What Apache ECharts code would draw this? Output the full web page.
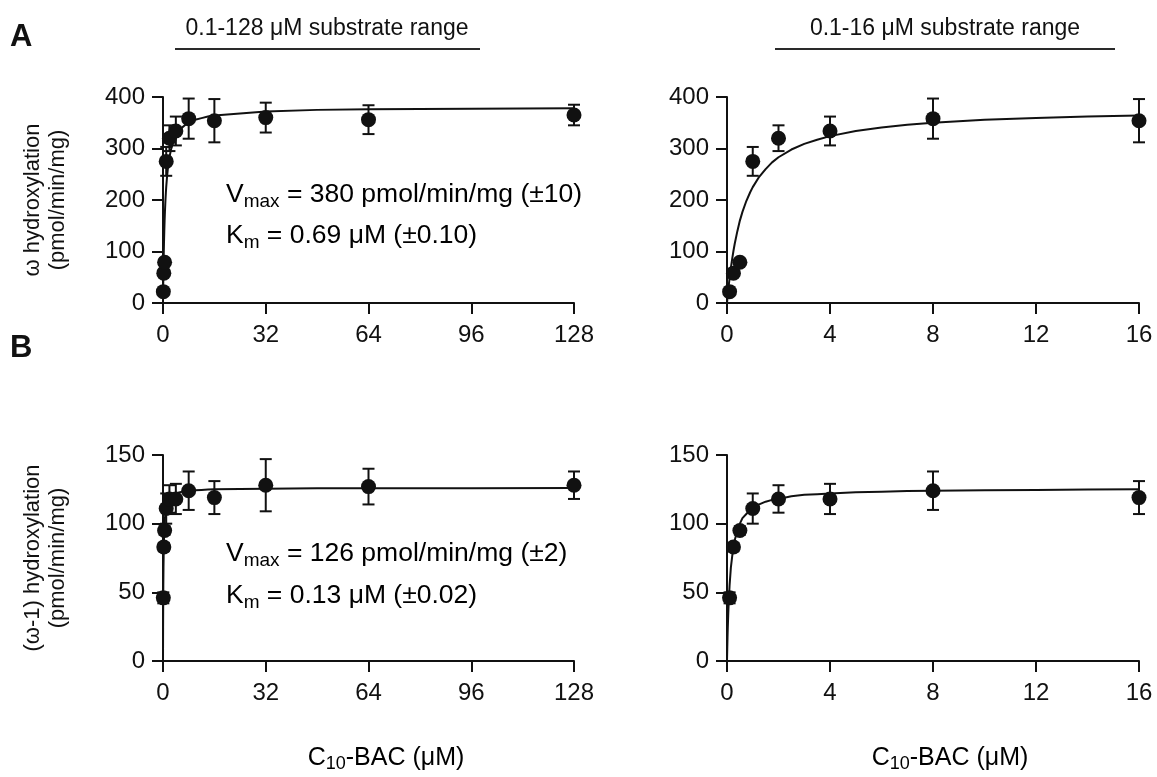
<!DOCTYPE html>
<html><head><meta charset="utf-8">
<script src="https://cdn.jsdelivr.net/npm/echarts@6/dist/echarts.min.js"></script>
<style>html,body{margin:0;padding:0;background:#fff}#c{width:1157px;height:777px}</style>
</head><body><div id="c"></div>
<script>
// ---- data ----
const concentrations = [0.1, 0.25, 0.5, 1, 2, 4, 8, 16, 32, 64, 128];
const omegaMean  = [22, 58, 79, 275, 320, 334, 358, 354, 360, 356, 365];
const omegaErr   = [4, 5, 5, 28, 25, 28, 39, 42, 29, 28, 20];
const omega1Mean = [46, 83, 95, 111, 118, 118, 124, 119, 128, 127, 128];
const omega1Err  = [4, 3, 3, 11, 10, 11, 14, 12, 19, 13, 10];
// fitted curves as drawn
const fitX      = [0, 0.01, 0.02, 0.03, 0.05, 0.07, 0.1, 0.15, 0.2, 0.25, 0.3, 0.4, 0.5, 0.6, 0.75, 0.9, 1, 1.25, 1.5, 1.75, 2, 2.5, 3, 3.5, 4, 5, 6, 7, 8, 10, 12, 14, 16, 24, 32, 48, 64, 96, 128];
const omegaFit  = [0, 5, 11, 16, 26, 35, 48, 68, 85, 101, 115, 139, 160, 177, 198, 215, 225, 245, 260, 273, 283, 298, 309, 317, 324, 334, 341, 346, 350, 356, 359, 362, 364, 368, 372, 375, 376, 377, 378];
const omega1Fit = [0, 9, 17, 24, 35, 44, 55, 68, 76, 83, 88, 95, 100, 104, 107, 110, 111.5, 114, 116, 117.3, 118, 120, 121, 121.5, 122, 122.8, 123.3, 123.7, 124, 124.4, 124.6, 124.8, 125, 125.3, 125.5, 125.7, 125.7, 125.8, 125.9];
const FONT = 'Liberation Sans, Arial, sans-serif';
const INK = '#111111';

const chart = echarts.init(document.getElementById('c'), null, {renderer: 'canvas'});

function pts(xs, ys, maxX) {
  const out = [];
  xs.forEach((x, i) => { if (x <= maxX) out.push([x, ys[i]]); });
  return out;
}
function errs(xs, m, e, maxX) {
  const out = [];
  xs.forEach((x, i) => { if (x <= maxX) out.push([x, m[i] - e[i], m[i] + e[i]]); });
  return out;
}
function errRender(params, api) {
  const x = api.value(0), lo = api.value(1), hi = api.value(2);
  const p1 = api.coord([x, hi]), p2 = api.coord([x, lo]);
  const w = 6;
  const st = {stroke: INK, lineWidth: 2};
  return {type: 'group', children: [
    {type: 'line', shape: {x1: p1[0], y1: p1[1], x2: p2[0], y2: p2[1]}, style: st},
    {type: 'line', shape: {x1: p1[0] - w, y1: p1[1], x2: p1[0] + w, y2: p1[1]}, style: st},
    {type: 'line', shape: {x1: p2[0] - w, y1: p2[1], x2: p2[0] + w, y2: p2[1]}, style: st}
  ]};
}

const grids = [
  {left: 163, top: 97, width: 411, height: 206},
  {left: 727, top: 97, width: 412, height: 206},
  {left: 163, top: 455, width: 411, height: 206},
  {left: 727, top: 455, width: 412, height: 206}
];
const axisCommon = {
  type: 'value',
  axisLine: {show: true, onZero: false, lineStyle: {color: INK, width: 2}},
  axisTick: {show: true, length: 11, lineStyle: {color: INK, width: 2}},
  splitLine: {show: false},
  axisLabel: {fontSize: 24, color: INK, fontFamily: FONT}
};
const xAxes = [
  {gridIndex: 0, min: 0, max: 128, interval: 32},
  {gridIndex: 1, min: 0, max: 16, interval: 4},
  {gridIndex: 2, min: 0, max: 128, interval: 32},
  {gridIndex: 3, min: 0, max: 16, interval: 4}
].map(a => Object.assign({}, axisCommon, a, {axisLabel: Object.assign({}, axisCommon.axisLabel, {margin: 20})}));
const yAxes = [
  {gridIndex: 0, min: 0, max: 400, interval: 100},
  {gridIndex: 1, min: 0, max: 400, interval: 100},
  {gridIndex: 2, min: 0, max: 150, interval: 50},
  {gridIndex: 3, min: 0, max: 150, interval: 50}
].map(a => Object.assign({}, axisCommon, a, {axisLabel: Object.assign({}, axisCommon.axisLabel, {margin: 18})}));

const series = [];
const panels = [
  {g: 0, mean: omegaMean, err: omegaErr, fit: omegaFit, maxX: 128},
  {g: 1, mean: omegaMean, err: omegaErr, fit: omegaFit, maxX: 16},
  {g: 2, mean: omega1Mean, err: omega1Err, fit: omega1Fit, maxX: 128},
  {g: 3, mean: omega1Mean, err: omega1Err, fit: omega1Fit, maxX: 16}
];
panels.forEach(p => {
  series.push({
    type: 'line', xAxisIndex: p.g, yAxisIndex: p.g, data: pts(fitX, p.fit, p.maxX),
    showSymbol: false, smooth: false,
    lineStyle: {color: INK, width: 2, join: 'round'}, z: 2, silent: true, animation: false
  });
  series.push({
    type: 'custom', xAxisIndex: p.g, yAxisIndex: p.g, data: errs(concentrations, p.mean, p.err, p.maxX),
    renderItem: errRender, encode: {x: 0, y: [1, 2]}, z: 3, silent: true, animation: false
  });
  series.push({
    type: 'scatter', xAxisIndex: p.g, yAxisIndex: p.g, data: pts(concentrations, p.mean, p.maxX),
    symbol: 'circle', symbolSize: 15, itemStyle: {color: INK, opacity: 1}, z: 4, silent: true, animation: false
  });
});

const rich = {
  n: {fontSize: 26.5, fontFamily: FONT, color: INK, lineHeight: 32, verticalAlign: 'middle'},
  s: {fontSize: 19, fontFamily: FONT, color: INK, lineHeight: 32, verticalAlign: 'bottom'}
};
const richT = {
  n: {fontSize: 25, fontFamily: FONT, color: INK, lineHeight: 30, verticalAlign: 'middle'},
  s: {fontSize: 18, fontFamily: FONT, color: INK, lineHeight: 30, verticalAlign: 'bottom'}
};
function txt(x, y, text, size, opts) {
  return Object.assign({type: 'text', x: x, y: y, silent: true,
    style: Object.assign({text: text, fontSize: size, fontFamily: FONT, fill: INK, align: 'left', verticalAlign: 'middle'}, opts || {})});
}
function vtxt(x, y, text) {
  return {type: 'text', x: x, y: y, rotation: Math.PI / 2, silent: true,
    style: {text: text, fontSize: 22, fontFamily: FONT, fill: INK, align: 'center', verticalAlign: 'middle'}};
}
const graphic = [
  txt(10, 37, 'A', 31, {fontWeight: 'bold'}),
  txt(10, 348, 'B', 31, {fontWeight: 'bold'}),
  txt(327, 29, '0.1-128 \u03bcM substrate range', 23, {align: 'center'}),
  txt(945, 29, '0.1-16 \u03bcM substrate range', 23, {align: 'center'}),
  {type: 'line', silent: true, shape: {x1: 175, y1: 49, x2: 480, y2: 49}, style: {stroke: '#2a2a2a', lineWidth: 2}},
  {type: 'line', silent: true, shape: {x1: 775, y1: 49, x2: 1115, y2: 49}, style: {stroke: '#2a2a2a', lineWidth: 2}},
  vtxt(33, 200, '\u03c9 hydroxylation'),
  vtxt(58, 200, '(pmol/min/mg)'),
  vtxt(33, 558, '(\u03c9-1) hydroxylation'),
  vtxt(58, 558, '(pmol/min/mg)'),
  {type: 'text', x: 226, y: 195, silent: true, style: {text: '{n|V}{s|max}{n| = 380 pmol/min/mg (\u00b110)}', rich: rich, align: 'left', verticalAlign: 'middle'}},
  {type: 'text', x: 226, y: 236, silent: true, style: {text: '{n|K}{s|m}{n| = 0.69 \u03bcM (\u00b10.10)}', rich: rich, align: 'left', verticalAlign: 'middle'}},
  {type: 'text', x: 226, y: 554, silent: true, style: {text: '{n|V}{s|max}{n| = 126 pmol/min/mg (\u00b12)}', rich: rich, align: 'left', verticalAlign: 'middle'}},
  {type: 'text', x: 226, y: 596, silent: true, style: {text: '{n|K}{s|m}{n| = 0.13 \u03bcM (\u00b10.02)}', rich: rich, align: 'left', verticalAlign: 'middle'}},
  {type: 'text', x: 386, y: 758, silent: true, style: {text: '{n|C}{s|10}{n|-BAC (\u03bcM)}', rich: richT, align: 'center', verticalAlign: 'middle'}},
  {type: 'text', x: 950, y: 758, silent: true, style: {text: '{n|C}{s|10}{n|-BAC (\u03bcM)}', rich: richT, align: 'center', verticalAlign: 'middle'}}
];

chart.setOption({
  backgroundColor: '#ffffff',
  animation: false,
  grid: grids,
  xAxis: xAxes,
  yAxis: yAxes,
  series: series,
  graphic: graphic
});
</script>
</body></html>
